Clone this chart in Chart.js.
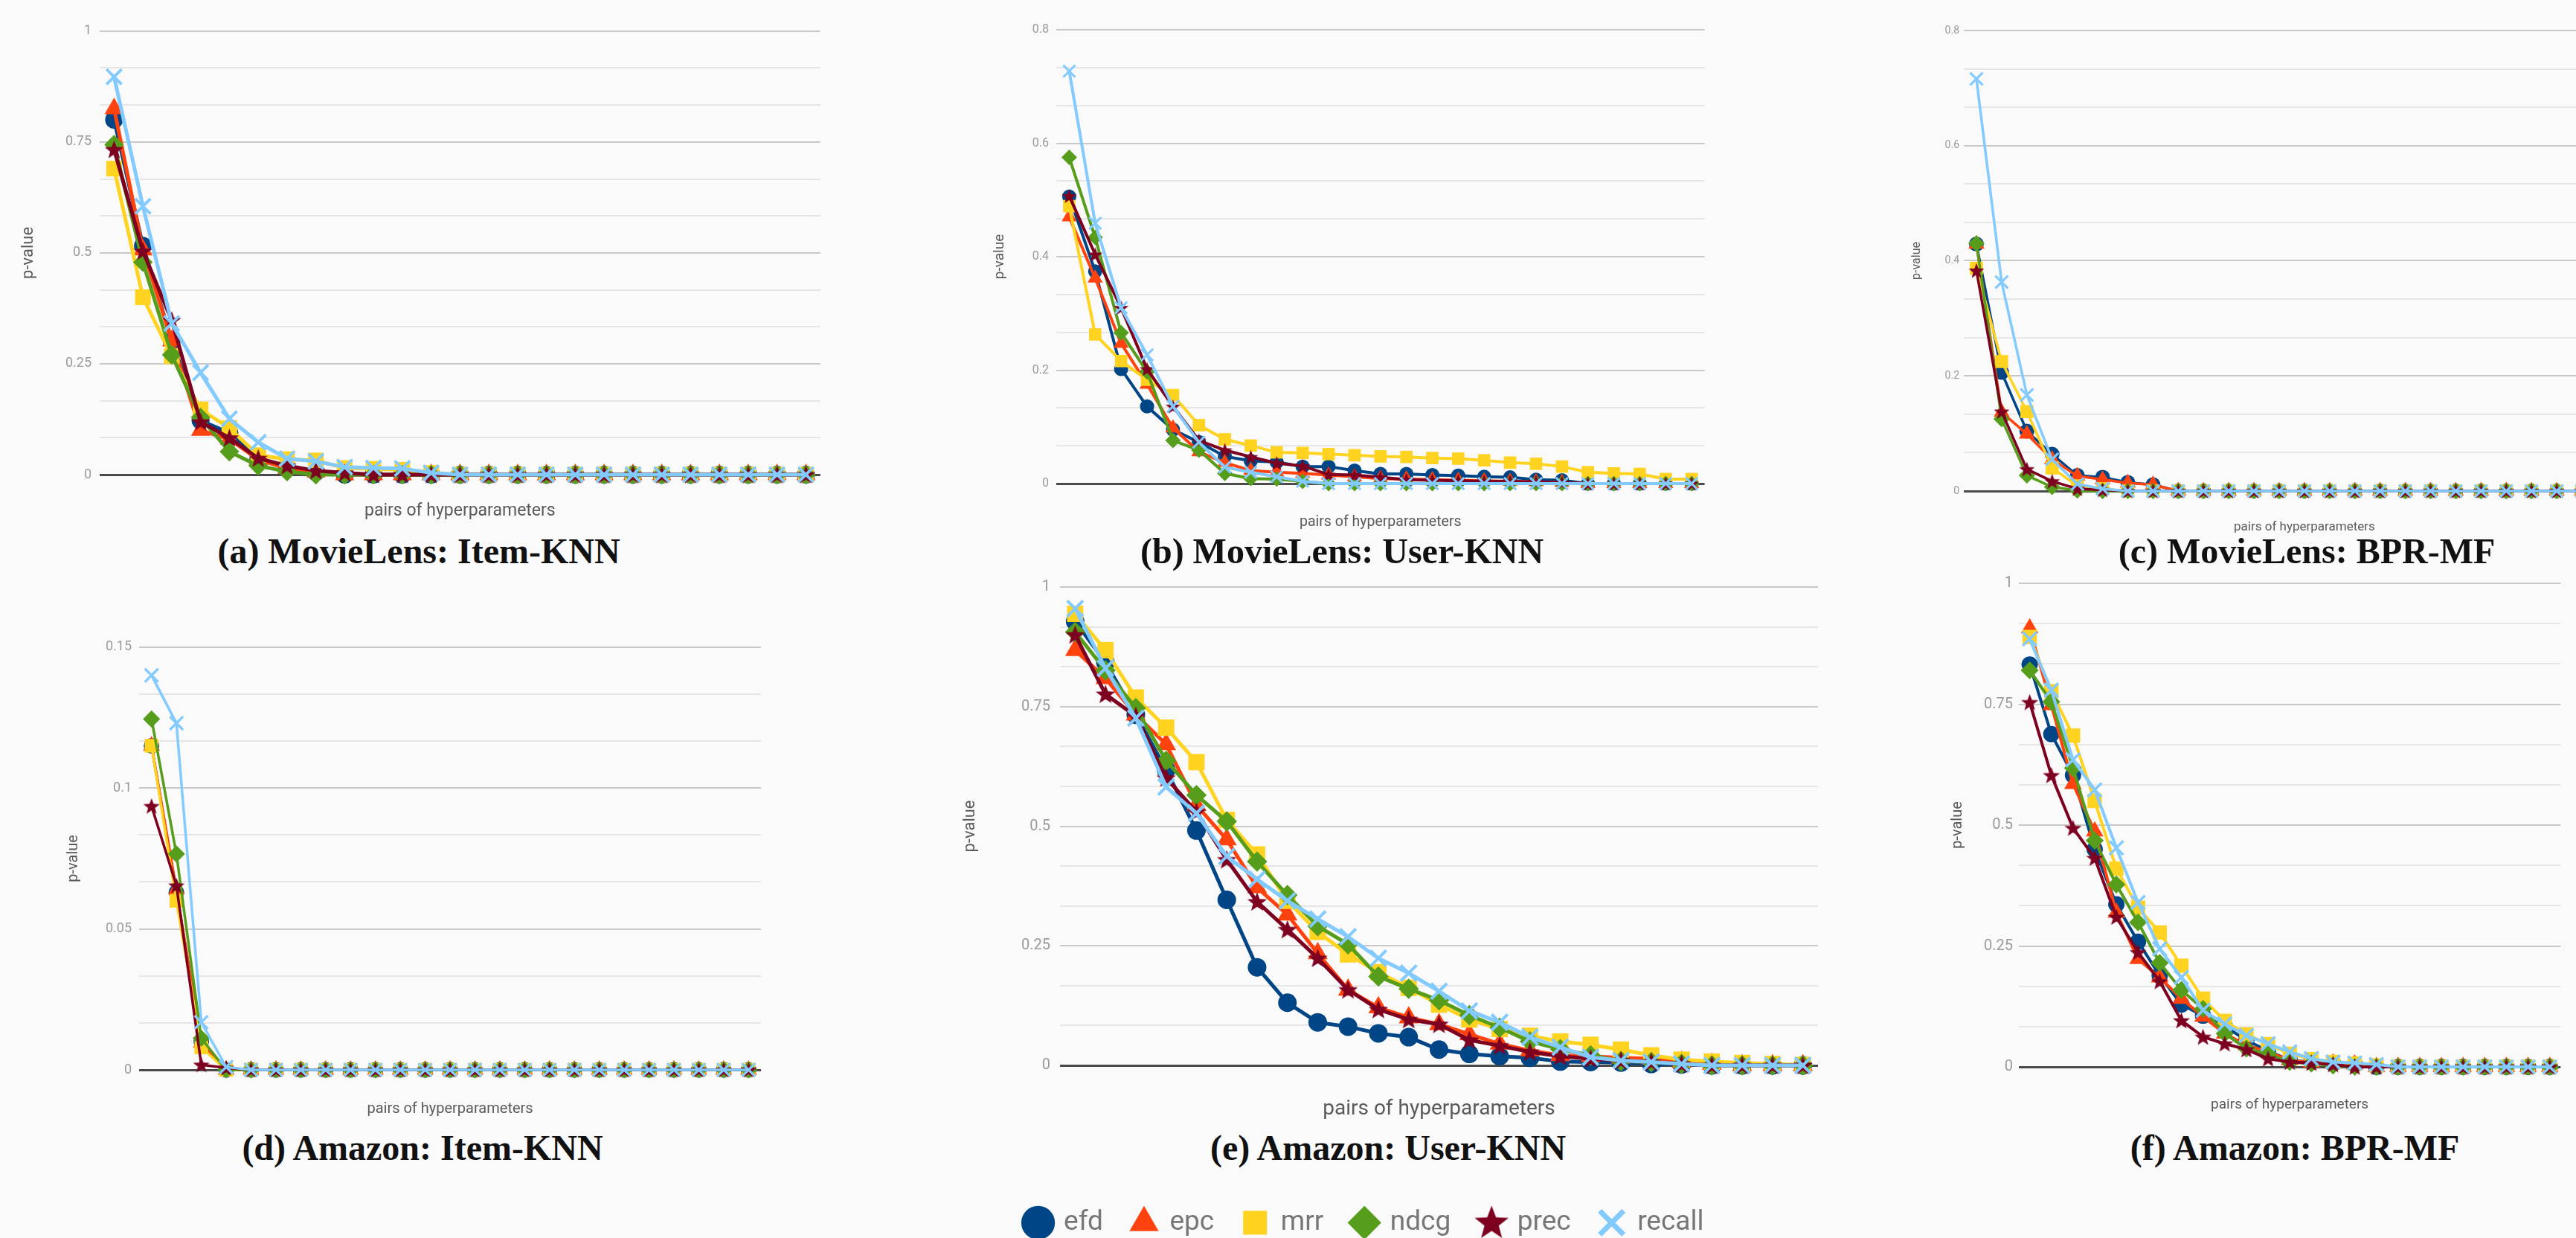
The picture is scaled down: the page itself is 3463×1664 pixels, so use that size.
<!DOCTYPE html>
<html>
<head>
<meta charset="utf-8">
<title>p-value per pair of hyperparameters</title>
<script src="https://cdn.jsdelivr.net/npm/chart.js@4.4.1/dist/chart.umd.min.js"></script>
<style>
  html, body { margin: 0; padding: 0; background: #fafafa; overflow: hidden; }
  #page { position: relative; width: 3463px; height: 1664px; overflow: hidden; background: #fafafa; }
  #page canvas { position: absolute; }
  .caption {
    position: absolute;
    transform: translate(-50%, -50%);
    white-space: nowrap;
    font-family: 'Liberation Serif', 'DejaVu Serif', serif;
    font-weight: bold;
    font-size: 48px;
    color: #111;
  }
</style>
</head>
<body>
<div id="page"></div>
<script>
// x categories: the ranked pairs of hyperparameters
const pairLabels = ['1','2','3','4','5','6','7','8','9','10','11','12','13','14','15','16','17','18','19','20','21','22','23','24','25'];
// panel (c) runs past the right edge of the figure
const pairLabelsWide = ['1','2','3','4','5','6','7','8','9','10','11','12','13','14','15','16','17','18','19','20','21','22','23','24','25','26','27'];

const metricNames = ['efd', 'epc', 'mrr', 'ndcg', 'prec', 'recall'];
const metricColors = ['#004586', '#ff420e', '#ffd320', '#579d1c', '#7e0021', '#83caff'];

// y tick labels
const ticksOneLabels = ['0', '0.25', '0.5', '0.75', '1'];
const ticksEightLabels = ['0', '0.2', '0.4', '0.6', '0.8'];
const ticksSmallLabels = ['0', '0.05', '0.1', '0.15'];

// (a) MovieLens: Item-KNN
const aEfd    = [0.800, 0.516, 0.302, 0.122, 0.094, 0.034, 0.016, 0.006, 0, 0, 0, 0, 0, 0, 0, 0, 0, 0, 0, 0, 0, 0, 0, 0, 0];
const aEpc    = [0.825, 0.507, 0.302, 0.100, 0.080, 0.034, 0.014, 0.006, 0, 0, 0, 0, 0, 0, 0, 0, 0, 0, 0, 0, 0, 0, 0, 0, 0];
const aMrr    = [0.690, 0.400, 0.267, 0.147, 0.105, 0.044, 0.035, 0.032, 0.015, 0.013, 0.011, 0.004, 0, 0, 0, 0, 0, 0, 0, 0, 0, 0, 0, 0, 0];
const aNdcg   = [0.744, 0.479, 0.270, 0.129, 0.052, 0.020, 0.007, 0, 0, 0, 0, 0, 0, 0, 0, 0, 0, 0, 0, 0, 0, 0, 0, 0, 0];
const aPrec   = [0.733, 0.504, 0.348, 0.119, 0.083, 0.037, 0.020, 0.009, 0.004, 0, 0, 0, 0, 0, 0, 0, 0, 0, 0, 0, 0, 0, 0, 0, 0];
const aRecall = [0.897, 0.605, 0.341, 0.230, 0.126, 0.073, 0.036, 0.030, 0.017, 0.015, 0.014, 0.004, 0, 0, 0, 0, 0, 0, 0, 0, 0, 0, 0, 0, 0];

// (b) MovieLens: User-KNN
const bEfd    = [0.506, 0.374, 0.202, 0.136, 0.095, 0.073, 0.048, 0.040, 0.038, 0.030, 0.030, 0.023, 0.017, 0.017, 0.015, 0.014, 0.012, 0.011, 0.007, 0.006, 0, 0, 0, 0, 0];
const bEpc    = [0.470, 0.362, 0.247, 0.175, 0.098, 0.056, 0.037, 0.023, 0.020, 0.018, 0.015, 0.012, 0.009, 0.008, 0.007, 0.006, 0.005, 0.004, 0.003, 0.002, 0, 0, 0, 0, 0];
const bMrr    = [0.489, 0.263, 0.216, 0.183, 0.156, 0.103, 0.078, 0.067, 0.055, 0.054, 0.052, 0.050, 0.048, 0.047, 0.045, 0.044, 0.041, 0.037, 0.035, 0.030, 0.020, 0.018, 0.017, 0.008, 0.008];
const bNdcg   = [0.575, 0.434, 0.266, 0.197, 0.076, 0.059, 0.018, 0.009, 0.008, 0.004, 0, 0, 0, 0, 0, 0, 0, 0, 0, 0, 0, 0, 0, 0, 0];
const bPrec   = [0.507, 0.404, 0.310, 0.202, 0.136, 0.076, 0.059, 0.047, 0.036, 0.031, 0.016, 0.015, 0.011, 0.007, 0.006, 0.005, 0.004, 0.004, 0.003, 0.002, 0, 0, 0, 0, 0];
const bRecall = [0.727, 0.459, 0.310, 0.227, 0.136, 0.073, 0.029, 0.020, 0.012, 0.004, 0, 0, 0, 0, 0, 0, 0, 0, 0, 0, 0, 0, 0, 0, 0];

// (c) MovieLens: BPR-MF
const cEfd    = [0.429, 0.206, 0.104, 0.064, 0.027, 0.024, 0.015, 0.011, 0, 0, 0, 0, 0, 0, 0, 0, 0, 0, 0, 0, 0, 0, 0, 0, 0, 0, 0];
const cEpc    = [0.429, 0.137, 0.099, 0.055, 0.026, 0.020, 0.014, 0.011, 0, 0, 0, 0, 0, 0, 0, 0, 0, 0, 0, 0, 0, 0, 0, 0, 0, 0, 0];
const cMrr    = [0.387, 0.225, 0.138, 0.040, 0.009, 0.004, 0, 0, 0, 0, 0, 0, 0, 0, 0, 0, 0, 0, 0, 0, 0, 0, 0, 0, 0, 0, 0];
const cNdcg   = [0.430, 0.125, 0.027, 0.007, 0.001, 0, 0, 0, 0, 0, 0, 0, 0, 0, 0, 0, 0, 0, 0, 0, 0, 0, 0, 0, 0, 0, 0];
const cPrec   = [0.383, 0.138, 0.038, 0.017, 0.004, 0.002, 0, 0, 0, 0, 0, 0, 0, 0, 0, 0, 0, 0, 0, 0, 0, 0, 0, 0, 0, 0, 0];
const cRecall = [0.716, 0.363, 0.167, 0.055, 0.012, 0.004, 0, 0, 0, 0, 0, 0, 0, 0, 0, 0, 0, 0, 0, 0, 0, 0, 0, 0, 0, 0, 0];

// (d) Amazon: Item-KNN
const dEfd    = [0.1150, 0.0630, 0.0100, 0, 0, 0, 0, 0, 0, 0, 0, 0, 0, 0, 0, 0, 0, 0, 0, 0, 0, 0, 0, 0, 0];
const dEpc    = [0.1150, 0.0640, 0.0096, 0, 0, 0, 0, 0, 0, 0, 0, 0, 0, 0, 0, 0, 0, 0, 0, 0, 0, 0, 0, 0, 0];
const dMrr    = [0.1150, 0.0600, 0.0080, 0, 0, 0, 0, 0, 0, 0, 0, 0, 0, 0, 0, 0, 0, 0, 0, 0, 0, 0, 0, 0, 0];
const dNdcg   = [0.1245, 0.0766, 0.0112, 0, 0, 0, 0, 0, 0, 0, 0, 0, 0, 0, 0, 0, 0, 0, 0, 0, 0, 0, 0, 0, 0];
const dPrec   = [0.0936, 0.0654, 0.0018, 0.0007, 0, 0, 0, 0, 0, 0, 0, 0, 0, 0, 0, 0, 0, 0, 0, 0, 0, 0, 0, 0, 0];
const dRecall = [0.1400, 0.1230, 0.0169, 0.0010, 0, 0, 0, 0, 0, 0, 0, 0, 0, 0, 0, 0, 0, 0, 0, 0, 0, 0, 0, 0, 0];

// (e) Amazon: User-KNN
const eEfd    = [0.928, 0.842, 0.733, 0.618, 0.491, 0.346, 0.205, 0.131, 0.090, 0.081, 0.067, 0.059, 0.033, 0.024, 0.019, 0.016, 0.008, 0.007, 0.006, 0.003, 0.002, 0, 0, 0, 0];
const eEpc    = [0.868, 0.809, 0.733, 0.671, 0.544, 0.472, 0.372, 0.315, 0.234, 0.158, 0.121, 0.100, 0.086, 0.065, 0.045, 0.031, 0.021, 0.019, 0.016, 0.014, 0.007, 0.003, 0, 0, 0];
const eMrr    = [0.944, 0.868, 0.769, 0.706, 0.634, 0.513, 0.441, 0.344, 0.279, 0.232, 0.195, 0.162, 0.127, 0.096, 0.076, 0.062, 0.050, 0.043, 0.033, 0.021, 0.012, 0.008, 0.005, 0.003, 0.001];
const eNdcg   = [0.906, 0.826, 0.747, 0.637, 0.565, 0.510, 0.426, 0.356, 0.291, 0.253, 0.186, 0.160, 0.136, 0.105, 0.079, 0.050, 0.034, 0.021, 0.009, 0.007, 0.003, 0, 0, 0, 0];
const ePrec   = [0.900, 0.776, 0.730, 0.601, 0.530, 0.430, 0.342, 0.284, 0.224, 0.158, 0.117, 0.096, 0.086, 0.053, 0.041, 0.028, 0.019, 0.014, 0.010, 0.007, 0.003, 0, 0, 0, 0];
const eRecall = [0.955, 0.830, 0.726, 0.582, 0.527, 0.437, 0.389, 0.344, 0.306, 0.269, 0.224, 0.193, 0.155, 0.114, 0.090, 0.059, 0.038, 0.017, 0.010, 0.007, 0.003, 0, 0, 0, 0];

// (f) Amazon: BPR-MF
const fEfd    = [0.832, 0.688, 0.603, 0.450, 0.336, 0.259, 0.189, 0.129, 0.106, 0.084, 0.055, 0.033, 0.014, 0.010, 0.007, 0.005, 0, 0, 0, 0, 0, 0, 0, 0, 0];
const fEpc    = [0.907, 0.748, 0.585, 0.487, 0.319, 0.223, 0.185, 0.141, 0.104, 0.069, 0.045, 0.031, 0.014, 0.009, 0.007, 0.005, 0, 0, 0, 0, 0, 0, 0, 0, 0];
const fMrr    = [0.889, 0.777, 0.685, 0.550, 0.410, 0.329, 0.278, 0.209, 0.141, 0.095, 0.067, 0.047, 0.027, 0.016, 0.010, 0.007, 0.003, 0, 0, 0, 0, 0, 0, 0, 0];
const fNdcg   = [0.820, 0.755, 0.618, 0.468, 0.377, 0.299, 0.215, 0.159, 0.120, 0.069, 0.038, 0.027, 0.010, 0.007, 0.003, 0, 0, 0, 0, 0, 0, 0, 0, 0, 0];
const fPrec   = [0.754, 0.603, 0.494, 0.432, 0.310, 0.237, 0.177, 0.096, 0.062, 0.048, 0.036, 0.017, 0.010, 0.008, 0.005, 0, 0, 0, 0, 0, 0, 0, 0, 0, 0];
const fRecall = [0.885, 0.779, 0.635, 0.573, 0.453, 0.340, 0.244, 0.185, 0.117, 0.089, 0.065, 0.048, 0.031, 0.017, 0.010, 0.008, 0.005, 0, 0, 0, 0, 0, 0, 0, 0];

// layout of each sub-chart, in page pixels
const panels = [
  { caption: '(a) MovieLens: Item-KNN', labels: pairLabels, series: [aEfd, aEpc, aMrr, aNdcg, aPrec, aRecall],
    yMax: 1, steps: 12, major: 3, tickLabels: ticksOneLabels,
    plotLeft: 134, plotRight: 1121, plotTop: 40, plotBottom: 638, yTitleX: 38, xTitleY: 687,
    tickFont: 18, tickPad: 11, yTitleFont: 22, xTitleFont: 23, marker: 24, line: 5, capX: 563, capY: 740 },
  { caption: '(b) MovieLens: User-KNN', labels: pairLabels, series: [bEfd, bEpc, bMrr, bNdcg, bPrec, bRecall],
    yMax: 0.8, steps: 12, major: 3, tickLabels: ticksEightLabels,
    plotLeft: 1420, plotRight: 2306, plotTop: 40, plotBottom: 650, yTitleX: 1344, xTitleY: 702,
    tickFont: 16, tickPad: 10, yTitleFont: 19, xTitleFont: 19.5, marker: 19, line: 4, capX: 1804, capY: 740 },
  { caption: '(c) MovieLens: BPR-MF', labels: pairLabelsWide, series: [cEfd, cEpc, cMrr, cNdcg, cPrec, cRecall],
    yMax: 0.8, steps: 12, major: 3, tickLabels: ticksEightLabels,
    plotLeft: 2640, plotRight: 3571, plotTop: 41, plotBottom: 660, yTitleX: 2577, xTitleY: 709,
    tickFont: 14, tickPad: 6, yTitleFont: 16, xTitleFont: 17, marker: 20, line: 3.5, capX: 3101, capY: 740 },
  { caption: '(d) Amazon: Item-KNN', labels: pairLabels, series: [dEfd, dEpc, dMrr, dNdcg, dPrec, dRecall],
    yMax: 0.15, steps: 9, major: 3, tickLabels: ticksSmallLabels,
    plotLeft: 187, plotRight: 1039, plotTop: 869, plotBottom: 1438, yTitleX: 99, xTitleY: 1491,
    tickFont: 18, tickPad: 10, yTitleFont: 20, xTitleFont: 20, marker: 21, line: 3.5, capX: 568, capY: 1542 },
  { caption: '(e) Amazon: User-KNN', labels: pairLabels, series: [eEfd, eEpc, eMrr, eNdcg, ePrec, eRecall],
    yMax: 1, steps: 12, major: 3, tickLabels: ticksOneLabels,
    plotLeft: 1425, plotRight: 2463, plotTop: 784, plotBottom: 1432, yTitleX: 1304, xTitleY: 1491,
    tickFont: 20, tickPad: 13, yTitleFont: 22, xTitleFont: 28, marker: 25, line: 5, capX: 1866, capY: 1542 },
  { caption: '(f) Amazon: BPR-MF', labels: pairLabels, series: [fEfd, fEpc, fMrr, fNdcg, fPrec, fRecall],
    yMax: 1, steps: 12, major: 3, tickLabels: ticksOneLabels,
    plotLeft: 2714, plotRight: 3459, plotTop: 784, plotBottom: 1434, yTitleX: 2632, xTitleY: 1486,
    tickFont: 20, tickPad: 8, yTitleFont: 20, xTitleFont: 19, marker: 22, line: 4, capX: 3085, capY: 1542 }
];

const page = document.getElementById('page');
const FONT = "Roboto, 'Liberation Sans', sans-serif";

// filled five-point star, like the spreadsheet marker
function starImage(r, color) {
  const c = document.createElement('canvas');
  const s = Math.ceil(r * 2 + 2);
  c.width = s;
  c.height = s;
  const g = c.getContext('2d');
  g.fillStyle = color;
  g.beginPath();
  for (let k = 0; k < 10; k++) {
    const rr = k % 2 ? r * 0.42 : r;
    const a = -Math.PI / 2 + k * Math.PI / 5;
    g.lineTo(s / 2 + rr * Math.cos(a), s / 2 + 1 + rr * Math.sin(a));
  }
  g.closePath();
  g.fill();
  return c;
}

// marker shape and size per metric, B = marker box size
function markerFor(k, B) {
  const color = metricColors[k];
  switch (k) {
    case 0: return { pointStyle: 'circle', pointRadius: B / 2, pointBorderWidth: 0 };
    case 1: return { pointStyle: 'triangle', pointRadius: B * 0.62, pointBorderWidth: 0 };
    case 2: return { pointStyle: 'rect', pointRadius: B * 0.62, pointBorderWidth: 0 };
    case 3: return { pointStyle: 'rectRot', pointRadius: B * 0.55, pointBorderWidth: 0 };
    case 4: return { pointStyle: starImage(B * 0.55, color), pointRadius: B * 0.55, pointBorderWidth: 0 };
    default: return { pointStyle: 'crossRot', pointRadius: B * 0.6, pointBorderWidth: B * 0.16 };
  }
}

function buildPanel(p) {
  const topPad = 20;
  const left = Math.round(p.yTitleX - 0.6 * p.yTitleFont);
  const top = p.plotTop - topPad;
  const bottom = Math.round(p.xTitleY + 0.6 * p.xTitleFont);
  const width = p.plotRight - left;
  const height = bottom - top;
  const yAxisWidth = p.plotLeft - left;
  const xAxisHeight = bottom - p.plotBottom;

  const canvas = document.createElement('canvas');
  canvas.width = width;
  canvas.height = height;
  canvas.style.left = left + 'px';
  canvas.style.top = top + 'px';
  canvas.style.width = width + 'px';
  canvas.style.height = height + 'px';
  page.appendChild(canvas);

  const datasets = metricNames.map((name, k) => Object.assign({
    label: name,
    data: p.series[k],
    borderColor: metricColors[k],
    backgroundColor: metricColors[k],
    pointBackgroundColor: metricColors[k],
    pointBorderColor: metricColors[k],
    borderWidth: p.line,
    tension: 0,
    clip: false,
    order: 5 - k
  }, markerFor(k, p.marker)));

  new Chart(canvas, {
    type: 'line',
    data: { labels: p.labels, datasets: datasets },
    options: {
      responsive: false,
      animation: false,
      events: [],
      layout: { padding: { top: topPad, left: 0, right: 0, bottom: 0 } },
      plugins: { legend: { display: false }, tooltip: { enabled: false } },
      scales: {
        x: {
          type: 'category',
          offset: true,
          grid: { display: false },
          border: { display: false },
          ticks: { display: false },
          title: {
            display: true,
            text: 'pairs of hyperparameters',
            color: '#5a5a5a',
            font: { family: FONT, size: p.xTitleFont },
            padding: 0
          },
          afterFit: (s) => { s.height = xAxisHeight; }
        },
        y: {
          min: 0,
          max: p.yMax,
          border: { display: false },
          afterBuildTicks: (s) => {
            const t = [];
            for (let j = 0; j <= p.steps; j++) t.push({ value: p.yMax * j / p.steps });
            s.ticks = t;
          },
          grid: {
            drawTicks: false,
            color: (c) => c.index === 0 ? '#4a4a4a' : (c.index % p.major === 0 ? '#c8c8c8' : '#e6e6e6'),
            lineWidth: (c) => c.index === 0 ? 3 : 2
          },
          ticks: {
            autoSkip: false,
            padding: p.tickPad,
            color: '#9a9a9a',
            font: { family: FONT, size: p.tickFont },
            callback: (v, i) => i % p.major === 0 ? p.tickLabels[i / p.major] : ''
          },
          title: {
            display: true,
            text: 'p-value',
            color: '#5a5a5a',
            font: { family: FONT, size: p.yTitleFont },
            padding: 0
          },
          afterFit: (s) => { s.width = yAxisWidth; }
        }
      }
    }
  });

  const cap = document.createElement('div');
  cap.className = 'caption';
  cap.textContent = p.caption;
  cap.style.left = p.capX + 'px';
  cap.style.top = p.capY + 'px';
  page.appendChild(cap);
}

panels.forEach(buildPanel);

// shared legend at the bottom; the canvas is tall so the legend box is not clipped
const legendCanvas = document.createElement('canvas');
legendCanvas.width = 1200;
legendCanvas.height = 300;
legendCanvas.style.left = '1235px';
legendCanvas.style.top = '1586px';
legendCanvas.style.width = '1200px';
legendCanvas.style.height = '300px';
page.appendChild(legendCanvas);

const legendStyles = ['circle', 'triangle', 'rect', 'rectRot', starImage(24, metricColors[4]), 'crossRot'];

new Chart(legendCanvas, {
  type: 'line',
  data: {
    labels: [],
    datasets: metricNames.map((name, k) => ({ label: name, data: [], borderColor: metricColors[k], backgroundColor: metricColors[k] }))
  },
  options: {
    responsive: false,
    animation: false,
    events: [],
    scales: { x: { display: false }, y: { display: false } },
    plugins: {
      tooltip: { enabled: false },
      legend: {
        position: 'top',
        labels: {
          usePointStyle: true,
          boxWidth: 32,
          boxHeight: 32,
          padding: 39,
          color: '#777',
          font: { family: FONT, size: 37 },
          generateLabels: () => metricNames.map((name, k) => ({
            text: name,
            fillStyle: metricColors[k],
            strokeStyle: metricColors[k],
            lineWidth: k === 5 ? 7 : 0,
            pointStyle: legendStyles[k],
            fontColor: '#777',
            hidden: false,
            datasetIndex: k
          }))
        }
      }
    }
  }
});
</script>
</body>
</html>
